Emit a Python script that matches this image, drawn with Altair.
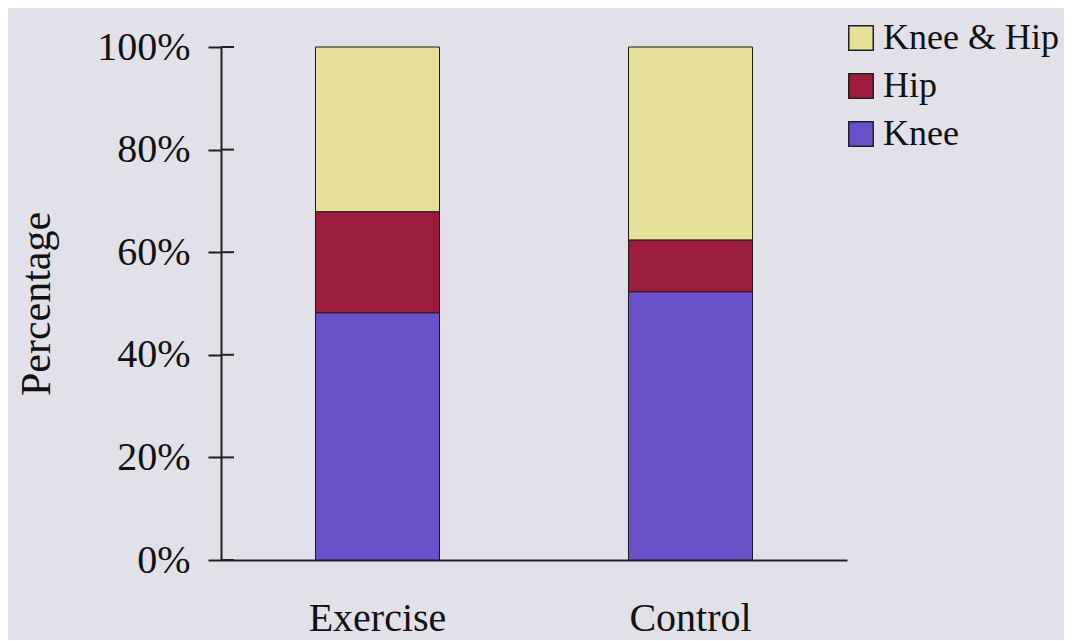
import altair as alt
import pandas as pd

groups = ["Exercise", "Control"]
categories = ["Knee", "Hip", "Knee & Hip"]
knee = [48.2, 52.3]
hip = [19.7, 10.1]
knee_hip = [32.1, 37.6]
tick_values = [0, 20, 40, 60, 80, 100]

colors = {"Knee & Hip": "#e6e09a", "Hip": "#9b1c3d", "Knee": "#6a50c9"}

rows = []
for i, g in enumerate(groups):
    for k, (cat, vals) in enumerate(zip(categories, [knee, hip, knee_hip])):
        rows.append({"group": g, "category": cat, "value": vals[i], "order": k})
df = pd.DataFrame(rows)
ticks_df = pd.DataFrame({"v": tick_values})

FONT = "Liberation Serif"
legend_domain = ["Knee & Hip", "Hip", "Knee"]

bars = alt.Chart(df).mark_bar(size=124, stroke="#1a1a1a", strokeWidth=1).encode(
    x=alt.X("group:N", sort=groups, title=None,
            scale=alt.Scale(paddingInner=0, paddingOuter=0),
            axis=alt.Axis(labelAngle=0, ticks=False, labelFont=FONT, labelFontSize=40,
                          labelColor="#111", labelPadding=38, domainColor="#222",
                          domainWidth=2)),
    y=alt.Y("value:Q", stack="zero", title="Percentage",
            scale=alt.Scale(domain=[0, 100]),
            axis=alt.Axis(values=tick_values, labelExpr="datum.value + '%'", grid=False,
                          tickSize=13, tickColor="#222", tickWidth=2, domainColor="#222",
                          domainWidth=2, labelFont=FONT, labelFontSize=40, labelColor="#111",
                          labelPadding=18, titleFont=FONT, titleFontSize=42,
                          titleFontWeight="normal", titleColor="#111", titlePadding=38)),
    color=alt.Color("category:N",
                    scale=alt.Scale(domain=legend_domain,
                                    range=[colors[c] for c in legend_domain]),
                    legend=alt.Legend(title=None, orient="none", legendX=622, legendY=-27,
                                      symbolType="square", symbolSize=600,
                                      symbolStrokeColor="#222", symbolStrokeWidth=1.5,
                                      labelFont=FONT, labelFontSize=36, labelColor="#111",
                                      labelLimit=400, rowPadding=12, labelOffset=4)),
    order=alt.Order("order:Q"),
)

inner_ticks = alt.Chart(ticks_df).mark_rule(color="#222", strokeWidth=2).encode(
    y=alt.Y("v:Q"),
    x=alt.value(0),
    x2=alt.value(13),
)

chart = alt.layer(bars, inner_ticks).properties(
    width=626, height=513,
    background="#e2e0e8",
    padding={"left": 213, "top": 39, "right": 217, "bottom": 80},
    autosize=alt.AutoSizeParams(type="none"),
).configure(font=FONT).configure_axis(
    labelFont=FONT, titleFont=FONT
).configure_legend(labelFont=FONT).configure_view(stroke=None)

chart.save("out.html", embed_options={"renderer": "svg", "actions": False})
